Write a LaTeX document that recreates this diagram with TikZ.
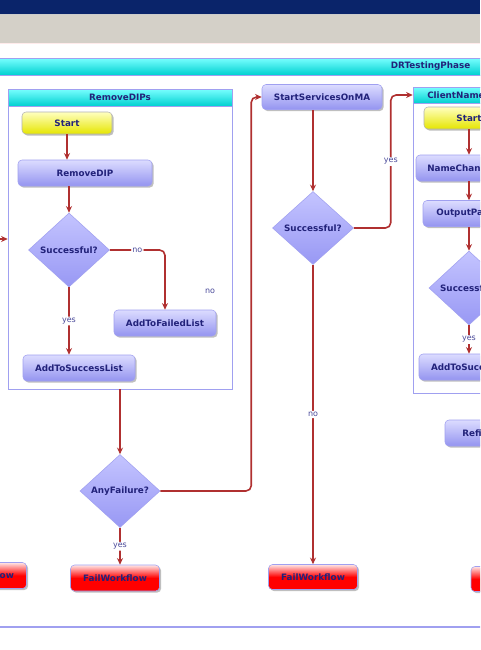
\documentclass[tikz,border=0pt]{standalone}
\usepackage{fontspec}
\setmainfont{DejaVu Sans}
\usetikzlibrary{shapes.geometric,arrows.meta,shadows}
\definecolor{navybar}{HTML}{0A246A}
\definecolor{winface}{HTML}{D4D0C8}
\definecolor{frame}{HTML}{A0A0F0}
\definecolor{boxtxt}{HTML}{22227A}
\definecolor{lbltxt}{HTML}{4A4A9A}
\definecolor{flow}{HTML}{B03030}
\definecolor{lavtop}{HTML}{DCDCFF}
\definecolor{lavbot}{HTML}{9494F0}
\definecolor{asktop}{HTML}{C4C4FF}
\definecolor{askbot}{HTML}{9898F4}
\definecolor{cyantop}{HTML}{78FFFF}
\definecolor{cyanbot}{HTML}{00D0D0}

\begin{document}
\begin{tikzpicture}[x=0.75pt, y=-0.75pt,
    font=\fontsize{6.6}{8}\selectfont\bfseries,
    sz/.style 2 args={minimum width=#1*0.75pt, minimum height=#2*0.75pt},
    actbox/.style={draw=frame, rounded corners=3pt, top color=lavtop, bottom color=lavbot, text=boxtxt, inner sep=0pt,
        drop shadow={shadow xshift=1.2pt, shadow yshift=-1.2pt, fill=black!50, opacity=.5}},
    startbox/.style={actbox, top color=yellow!25, bottom color=yellow!90!black, draw=gray!60},
    failbox/.style={actbox, top color=red!10, bottom color=red, middle color=red, draw=frame},
    askbox/.style={shape=diamond, draw=frame, top color=asktop, bottom color=askbot, text=boxtxt, inner sep=0pt},
    groupbox/.style={draw=frame, fill=white, inner sep=0pt},
    headbar/.style={draw=frame, top color=cyantop, bottom color=cyanbot, text=boxtxt, inner sep=0pt},
    cut/.style={anchor=west, text=boxtxt, inner sep=0pt},
    flowline/.style={draw=flow, line width=1.2pt, rounded corners=4pt, -{Stealth[length=5pt, width=4.5pt]}},
    lbl/.style={font=\fontsize{6}{7}\selectfont\mdseries, text=lbltxt, fill=white, inner sep=1pt}]
    \useasboundingbox (0,0) rectangle (480,650);
    \clip (0,0) rectangle (480,650);
    \fill[white] (0,0) rectangle (480,650);
    % window chrome
    \fill[navybar] (0,0) rectangle (480,14);
    \fill[winface] (0,15) rectangle (480,43);
    \draw[gray!40] (0,14.5) -- (480,14.5);
    \draw[red!8!white] (0,43.5) -- (480,43.5);
    % phase
    \node[headbar, sz={490}{17}] (phase) at (240,66.5) {};
    \node[anchor=east, text=boxtxt] (phaseTitle) at (475,66.5) {DRTestingPhase};
    \draw[frame, line width=0.8pt] (-5,627) -- (485,627);
    % RemoveDIPs
    \node[groupbox, sz={224}{300}] (dips) at (120,239) {};
    \node[headbar, sz={224}{17}] (dipsHead) at (120,97.5) {RemoveDIPs};
    \node[startbox, sz={90}{22}] (startA) at (67,123) {Start};
    \node[actbox, sz={134}{26}] (removeDip) at (85,173) {RemoveDIP};
    \node[askbox, sz={81}{74}] (succA) at (69,250) {Successful?};
    \node[actbox, sz={102}{26}] (failedList) at (165,323) {AddToFailedList};
    \node[actbox, sz={112}{26}] (successList) at (79,368) {AddToSuccessList};
    \node[lbl, fill=none] (strayNo) at (210,291) {no};
    % after RemoveDIPs
    \node[askbox, sz={80}{73}] (anyFail) at (120,491) {AnyFailure?};
    \node[failbox, sz={89}{26}] (failA) at (115,578) {FailWorkflow};
    \node[failbox, sz={89}{26}] (failLeft) at (-18,575.5) {FailWorkflow};
    \node[actbox, sz={120}{25}] (startSvc) at (322,97) {StartServicesOnMA};
    \node[askbox, sz={81}{73}] (succB) at (313,228) {Successful?};
    \node[failbox, sz={89}{25}] (failB) at (313,577) {FailWorkflow};
    % ClientName
    \node[groupbox, sz={187}{306}] (client) at (506.5,240) {};
    \node[headbar, sz={187}{16}] (clientHead) at (506.5,95) {};
    \node[cut] (clientTitle) at (427,95) {ClientName};
    \node[startbox, sz={90}{22}] (startC) at (469,118) {Start};
    \node[actbox, sz={106}{26}] (nameChg) at (469,168) {};
    \node[cut] (nameChgTxt) at (427,168) {NameChan};
    \node[actbox, sz={92}{26}] (outPath) at (469,213.5) {};
    \node[cut] (outPathTxt) at (436,213.5) {OutputPa};
    \node[askbox, sz={80}{74}] (succC) at (469,288) {Successful?};
    \node[actbox, sz={112}{26}] (successListC) at (475,367) {AddToSuccessList};
    \node[actbox, sz={110}{26}] (refi) at (500,433) {};
    \node[cut] (refiTxt) at (462,433) {Refi};
    \node[failbox, sz={89}{25}] (failC) at (515.5,579) {FailWorkflow};
    \coordinate (inLeft) at (-5,239);
    % connectors
    \draw[flowline] (inLeft) -- (dips.west);
    \draw[flowline] (startA.south) -- (startA.south |- removeDip.north);
    \draw[flowline] (succA.north |- removeDip.south) -- (succA.north);
    \draw[flowline] (succA.east) -| node[lbl, pos=0.25] {no} (failedList.north);
    \draw[flowline] (succA.south) -- node[lbl] {yes} (succA.south |- successList.north);
    \draw[flowline] (dips.south) -- (anyFail.north);
    \draw[flowline] (anyFail.south) -- node[lbl] {yes} (anyFail.south |- failA.north);
    \draw[flowline] (anyFail.east) -- ++(91,0) |- (startSvc.west);
    \draw[flowline] (succB.north |- startSvc.south) -- (succB.north);
    \draw[flowline] (succB.east) -- ++(37,0) |- node[lbl, pos=0.25] {yes} (clientHead.west);
    \draw[flowline] (succB.south) -- node[lbl] {no} (succB.south |- failB.north);
    \draw[flowline] (startC.south) -- (nameChg.north);
    \draw[flowline] (nameChg.south) -- (outPath.north);
    \draw[flowline] (outPath.south) -- (succC.north);
    \draw[flowline] (succC.south) -- node[lbl] {yes} (succC.south |- successListC.north);
\end{tikzpicture}
\end{document}
